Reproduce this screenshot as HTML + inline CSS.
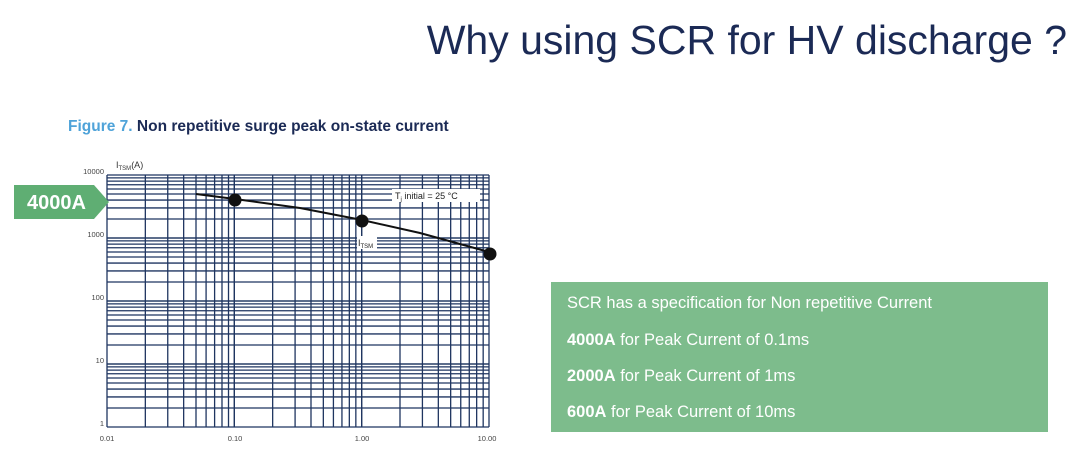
<!DOCTYPE html>
<html><head><meta charset="utf-8"><style>
body{margin:0;width:1080px;height:454px;background:#fff;overflow:hidden;position:relative;font-family:"Liberation Sans",sans-serif}
.t{position:absolute;right:13px;top:17px;font-size:41px;color:#1b2a55;white-space:nowrap}
.cap{position:absolute;left:68px;top:118px;font-size:15.5px;font-weight:bold;color:#1b2a55}
.cap span{color:#4fa3d9}
.box{position:absolute;left:551px;top:282px;width:497px;height:150px;background:#7dbc8c;color:#fff;font-size:16.5px}
.box div{position:absolute;left:16px}
</style></head><body>
<div class="t">Why using SCR for HV discharge ?</div>
<div class="cap"><span>Figure 7.</span> Non repetitive surge peak on-state current</div>
<svg width="1080" height="454" style="position:absolute;left:0;top:0" id="s">
<g id="g" stroke="#1f3560" stroke-width="1.3" fill="none"></g>
<polyline points="196,194 235,199 300,208 362,220 420,233 489,252" stroke="#111" stroke-width="2" fill="none"/>
<rect x="392" y="189" width="88" height="13" fill="#fff"/>
<text x="395" y="199" font-size="9" fill="#222" font-family="Liberation Sans">T<tspan font-size="6" dy="2">j</tspan><tspan dy="-2"> initial = 25 °C</tspan></text>
<rect x="357" y="236" width="20" height="13" fill="#fff"/>
<text x="358" y="246" font-size="9" fill="#222" font-family="Liberation Sans">I<tspan font-size="6" dy="2">TSM</tspan></text>
<circle cx="235" cy="200" r="6.5" fill="#111"/>
<circle cx="362" cy="221" r="6.5" fill="#111"/>
<circle cx="490" cy="254" r="6.5" fill="#111"/>
<polygon points="14,185 94,185 109,202 94,219 14,219" fill="#5fae73"/>
<text x="27" y="209" font-size="20" font-weight="bold" fill="#fff" font-family="Liberation Sans">4000A</text>
<g font-size="7.5" fill="#444" font-family="Liberation Sans" text-anchor="end">
<text x="104" y="174">10000</text><text x="104" y="237">1000</text><text x="104" y="300">100</text><text x="104" y="363">10</text><text x="104" y="426">1</text>
</g>
<g font-size="7.5" fill="#444" font-family="Liberation Sans" text-anchor="middle">
<text x="107" y="441">0.01</text><text x="235" y="441">0.10</text><text x="362" y="441">1.00</text><text x="487" y="441">10.00</text>
</g>
<text x="116" y="168" font-size="9" fill="#333" font-family="Liberation Sans">I<tspan font-size="6" dy="2">TSM</tspan><tspan dy="-2">(A)</tspan></text>
</svg>
<div class="box">
<div style="top:12px">SCR has a specification for Non repetitive Current</div>
<div style="top:49px"><b>4000A</b> for Peak Current of 0.1ms</div>
<div style="top:85px"><b>2000A</b> for Peak Current of 1ms</div>
<div style="top:121px"><b>600A</b> for Peak Current of 10ms</div>
</div>
<script>
var g=document.getElementById('g'),h='';
var x0=107,x1=489,y0=175,y1=427,dx=(x1-x0)/3,dy=(y1-y0)/4;
for(var d=0;d<3;d++)for(var k=1;k<=10;k++){var x=x0+dx*(d+Math.log10(k));h+='<line x1="'+x+'" y1="'+y0+'" x2="'+x+'" y2="'+y1+'"/>';}
for(var d=0;d<4;d++)for(var k=1;k<=10;k++){var y=y1-dy*(d+Math.log10(k));h+='<line x1="'+x0+'" y1="'+y+'" x2="'+x1+'" y2="'+y+'"/>';}
g.innerHTML=h;
</script>
</body></html>
